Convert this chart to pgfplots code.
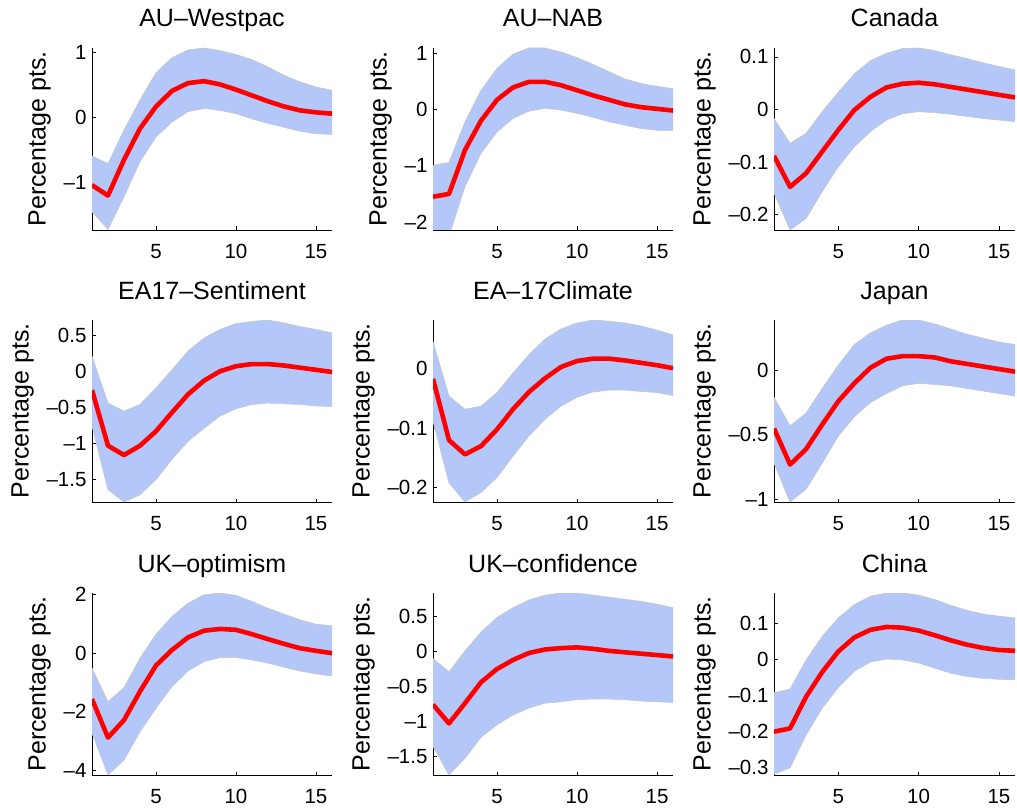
\documentclass[border=0pt]{standalone}
\usepackage{pgfplots}
\pgfplotsset{compat=1.18}
\usepackage{pgfplotstable}
\usepackage{fontspec}
\setmainfont{Liberation Sans}
\definecolor{bandblue}{RGB}{179,199,248}
\definecolor{bandedge}{RGB}{200,200,200}

\pgfplotstableread{
x lo mid hi
1 -1.45 -1.04 -0.59
2 -1.72 -1.20 -0.71
3 -1.22 -0.65 -0.19
4 -0.68 -0.17 0.27
5 -0.30 0.17 0.69
6 -0.07 0.41 0.92
7 0.09 0.53 1.04
8 0.14 0.56 1.07
9 0.11 0.51 1.03
10 0.06 0.43 0.97
11 -0.02 0.34 0.89
12 -0.09 0.25 0.78
13 -0.15 0.17 0.65
14 -0.21 0.11 0.55
15 -0.25 0.08 0.47
16 -0.26 0.06 0.42
}\westpac
\pgfplotstableread{
x lo mid hi
1 -2.20 -1.55 -0.99
2 -2.25 -1.50 -0.94
3 -1.37 -0.72 -0.22
4 -0.78 -0.20 0.34
5 -0.40 0.17 0.73
6 -0.16 0.39 0.98
7 -0.03 0.49 1.09
8 0.02 0.49 1.09
9 -0.01 0.43 1.02
10 -0.07 0.34 0.92
11 -0.14 0.25 0.80
12 -0.22 0.17 0.67
13 -0.28 0.09 0.54
14 -0.34 0.04 0.46
15 -0.37 0.01 0.41
16 -0.38 -0.02 0.37
}\nab
\pgfplotstableread{
x lo mid hi
1 -0.159 -0.088 -0.017
2 -0.229 -0.147 -0.064
3 -0.207 -0.121 -0.045
4 -0.156 -0.080 -0.004
5 -0.109 -0.039 0.033
6 -0.071 -0.001 0.068
7 -0.042 0.024 0.093
8 -0.020 0.042 0.107
9 -0.008 0.049 0.116
10 -0.004 0.051 0.117
11 -0.006 0.048 0.112
12 -0.009 0.043 0.104
13 -0.013 0.038 0.097
14 -0.017 0.033 0.089
15 -0.020 0.028 0.082
16 -0.023 0.023 0.075
}\canada
\pgfplotstableread{
x lo mid hi
1 -0.76 -0.26 0.21
2 -1.64 -1.03 -0.44
3 -1.81 -1.16 -0.55
4 -1.71 -1.03 -0.46
5 -1.50 -0.83 -0.23
6 -1.22 -0.57 0.02
7 -0.97 -0.32 0.28
8 -0.79 -0.13 0.46
9 -0.62 0.00 0.58
10 -0.52 0.07 0.66
11 -0.46 0.10 0.69
12 -0.44 0.10 0.71
13 -0.45 0.08 0.67
14 -0.46 0.05 0.62
15 -0.48 0.02 0.58
16 -0.49 -0.01 0.53
}\easent
\pgfplotstableread{
x lo mid hi
1 -0.088 -0.017 0.046
2 -0.192 -0.120 -0.046
3 -0.224 -0.144 -0.068
4 -0.208 -0.130 -0.063
5 -0.183 -0.102 -0.040
6 -0.147 -0.068 -0.007
7 -0.113 -0.039 0.024
8 -0.085 -0.016 0.050
9 -0.063 0.003 0.067
10 -0.048 0.013 0.077
11 -0.039 0.017 0.082
12 -0.036 0.017 0.080
13 -0.036 0.014 0.077
14 -0.038 0.010 0.072
15 -0.040 0.006 0.065
16 -0.045 0.001 0.057
}\eaclim
\pgfplotstableread{
x lo mid hi
1 -0.72 -0.45 -0.21
2 -1.02 -0.73 -0.43
3 -0.92 -0.61 -0.33
4 -0.72 -0.42 -0.14
5 -0.51 -0.24 0.04
6 -0.36 -0.10 0.20
7 -0.25 0.02 0.29
8 -0.18 0.09 0.35
9 -0.12 0.11 0.39
10 -0.10 0.11 0.39
11 -0.11 0.10 0.36
12 -0.12 0.07 0.32
13 -0.14 0.05 0.28
14 -0.16 0.03 0.25
15 -0.18 0.01 0.22
16 -0.20 -0.01 0.20
}\japan
\pgfplotstableread{
x lo mid hi
1 -2.74 -1.57 -0.51
2 -4.17 -2.89 -1.66
3 -3.66 -2.29 -1.18
4 -2.69 -1.31 -0.17
5 -1.89 -0.42 0.65
6 -1.14 0.11 1.26
7 -0.61 0.54 1.71
8 -0.29 0.77 2.00
9 -0.15 0.83 2.06
10 -0.15 0.80 1.98
11 -0.23 0.65 1.77
12 -0.34 0.48 1.54
13 -0.48 0.32 1.34
14 -0.61 0.17 1.14
15 -0.71 0.08 0.99
16 -0.78 0.00 0.94
}\ukopt
\pgfplotstableread{
x lo mid hi
1 -1.36 -0.76 -0.10
2 -1.77 -1.03 -0.29
3 -1.53 -0.74 0.01
4 -1.23 -0.44 0.28
5 -1.05 -0.25 0.49
6 -0.91 -0.12 0.63
7 -0.81 -0.02 0.74
8 -0.74 0.03 0.81
9 -0.72 0.05 0.84
10 -0.69 0.06 0.84
11 -0.68 0.04 0.81
12 -0.68 0.01 0.78
13 -0.69 -0.01 0.75
14 -0.71 -0.03 0.72
15 -0.72 -0.05 0.68
16 -0.73 -0.07 0.63
}\ukconf
\pgfplotstableread{
x lo mid hi
1 -0.319 -0.201 -0.093
2 -0.301 -0.192 -0.083
3 -0.210 -0.104 -0.002
4 -0.136 -0.036 0.063
5 -0.079 0.021 0.114
6 -0.034 0.060 0.151
7 -0.008 0.081 0.174
8 0.000 0.089 0.183
9 -0.002 0.087 0.183
10 -0.011 0.079 0.177
11 -0.025 0.066 0.165
12 -0.039 0.052 0.149
13 -0.048 0.040 0.135
14 -0.053 0.031 0.125
15 -0.056 0.025 0.119
16 -0.057 0.023 0.114
}\china

\pgfplotsset{
  irf/.style={
    scale only axis, width=240pt, height=182pt, anchor=south west,
    xmin=1, xmax=16, xtick={5,10,15}, xticklabels={5,10,15},
    axis x line*=bottom, axis y line*=left,
    axis line style={-, black, line width=0.7pt},
    tick align=inside, major tick length=3.5pt,
    tick style={black, line width=0.6pt},
    xtick pos=bottom, ytick pos=left,
    ylabel={Percentage pts.},
    tick label style={font=\fontsize{20.5}{24}\selectfont},
    label style={font=\fontsize{25}{30}\selectfont},
    ylabel style={yshift=6pt},
    title style={font=\fontsize{25}{30}\selectfont, at={(0.5,1)}, anchor=base, yshift=15pt},
    xticklabel style={anchor=base, yshift=-28pt},
    yticklabel style={xshift=-2pt},
    clip=true,
  },
}
\newcommand{\irfplot}[1]{%
  \addplot[draw=none, stack plots=y, forget plot] table[x=x,y=lo] {#1};
  \addplot[fill=bandblue, draw=none, stack plots=y] table[x=x,y expr=\thisrow{hi}-\thisrow{lo}] {#1} \closedcycle;
  \addplot[draw=bandedge, line width=0.6pt, stack plots=false] table[x=x,y=hi] {#1};
  \addplot[draw=bandedge, line width=0.6pt, stack plots=false] table[x=x,y=lo] {#1};
  \addplot[red, line width=4.6pt, line join=round, stack plots=false] table[x=x,y=mid] {#1};
}

\begin{document}
\begin{tikzpicture}
\path[use as bounding box] (0pt,0pt) rectangle (1017pt,-810pt);

% Row 1
\begin{axis}[irf, at={(92pt,-230pt)}, title={AU–Westpac},
  ymin=-1.73, ymax=1.07, ytick={-1,0,1}, yticklabels={–1,0,1}]
\irfplot{\westpac}
\end{axis}
\begin{axis}[irf, at={(433pt,-230pt)}, title={AU–NAB},
  ymin=-2.14, ymax=1.09, ytick={-2,-1,0,1}, yticklabels={–2,–1,0,1}]
\irfplot{\nab}
\end{axis}
\begin{axis}[irf, at={(774pt,-230pt)}, width=241pt, title={Canada},
  ymin=-0.229, ymax=0.117, ytick={-0.2,-0.1,0,0.1}, yticklabels={–0.2,–0.1,0,0.1}]
\irfplot{\canada}
\end{axis}

% Row 2
\begin{axis}[irf, at={(92pt,-502pt)}, title={EA17–Sentiment},
  ymin=-1.81, ymax=0.71, ytick={-1.5,-1,-0.5,0,0.5}, yticklabels={–1.5,–1,–0.5,0,0.5}]
\irfplot{\easent}
\end{axis}
\begin{axis}[irf, at={(433pt,-502pt)}, title={EA–17Climate},
  ymin=-0.224, ymax=0.082, ytick={-0.2,-0.1,0}, yticklabels={–0.2,–0.1,0}]
\irfplot{\eaclim}
\end{axis}
\begin{axis}[irf, at={(774pt,-502pt)}, width=241pt, title={Japan},
  ymin=-1.02, ymax=0.39, ytick={-1,-0.5,0}, yticklabels={–1,–0.5,0}]
\irfplot{\japan}
\end{axis}

% Row 3
\begin{axis}[irf, at={(92pt,-775pt)}, title={UK–optimism},
  ymin=-4.17, ymax=2.06, ytick={-4,-2,0,2}, yticklabels={–4,–2,0,2}]
\irfplot{\ukopt}
\end{axis}
\begin{axis}[irf, at={(433pt,-775pt)}, title={UK–confidence},
  ymin=-1.77, ymax=0.84, ytick={-1.5,-1,-0.5,0,0.5}, yticklabels={–1.5,–1,–0.5,0,0.5}]
\irfplot{\ukconf}
\end{axis}
\begin{axis}[irf, at={(774pt,-775pt)}, width=241pt, title={China},
  ymin=-0.321, ymax=0.183, ytick={-0.3,-0.2,-0.1,0,0.1}, yticklabels={–0.3,–0.2,–0.1,0,0.1}]
\irfplot{\china}
\end{axis}
\end{tikzpicture}
\end{document}
